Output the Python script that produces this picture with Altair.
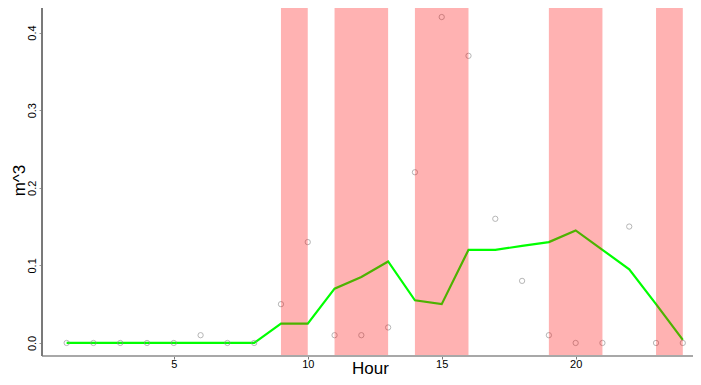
import altair as alt
import pandas as pd

hours = list(range(1, 25))
observed = [0, 0, 0, 0, 0, 0.01, 0, 0, 0.05, 0.13, 0.01, 0.01, 0.02, 0.22, 0.42, 0.37,
            0.16, 0.08, 0.01, 0, 0, 0.15, 0, 0]
smoothed = [0, 0, 0, 0, 0, 0, 0, 0, 0.025, 0.025, 0.07, 0.085, 0.105, 0.055, 0.05, 0.12,
            0.12, 0.125, 0.13, 0.145, 0.12, 0.095, 0.05, 0.004]
band_start = [9, 11, 14, 19, 23]
band_end = [10, 13, 16, 21, 24]

W, H = 651, 352

df = pd.DataFrame({"hour": hours, "obs": observed, "fit": smoothed})
bands = pd.DataFrame({"s": band_start, "e": band_end})

xscale = alt.Scale(domain=[0.08, 24.38], nice=False, zero=False)
yscale = alt.Scale(domain=[-0.0168, 0.4368], nice=False, zero=False)

FONT = "Liberation Sans"

xaxis = alt.Axis(title="Hour", values=[5, 10, 15, 20], format="d", grid=False, domain=False,
                 tickColor="#777", tickSize=3, labelBaseline="alphabetic", labelPadding=8,
                 labelFontSize=11, labelColor="#000", labelFont=FONT,
                 titleFontSize=17, titleFontWeight="normal", titleFont=FONT,
                 titleColor="#000", titleBaseline="alphabetic", titleY=17,
                 titleAnchor="middle", titleX=328)
yaxis = alt.Axis(title="m^3", values=[0, 0.1, 0.2, 0.3, 0.4], format=".1f", grid=False,
                 domain=False, tickColor="#999", tickSize=3, labelAngle=-90,
                 labelAlign="center", labelBaseline="alphabetic", labelPadding=4,
                 labelFontSize=11, labelColor="#000", labelFont=FONT,
                 titleFontSize=17, titleFontWeight="normal", titleFont=FONT,
                 titleColor="#000", titleAngle=-90, titleBaseline="alphabetic",
                 titleAlign="center", titleX=-18, titleY=176)

line = alt.Chart(df).mark_line(color="#00ff00", strokeWidth=2.2).encode(
    x=alt.X("hour:Q", scale=xscale, axis=xaxis),
    y=alt.Y("fit:Q", scale=yscale, axis=yaxis),
)
pts = alt.Chart(df).mark_point(shape="circle", filled=False, color="#8c8c8c",
                               size=28, strokeWidth=0.9).encode(
    x=alt.X("hour:Q", scale=xscale),
    y=alt.Y("obs:Q", scale=yscale),
)
rects = alt.Chart(bands).mark_rect(color="#ff0000", opacity=0.3).encode(
    x=alt.X("s:Q", scale=xscale),
    x2="e:Q",
    y=alt.value(0),
    y2=alt.value(H),
)

base = alt.Chart(df)
frame_top = base.mark_rule(color="#bdbdbd", strokeWidth=1.2).encode(
    x=alt.value(0), x2=alt.value(W), y=alt.value(0))
frame_bottom = base.mark_rule(color="#a8a8a8", strokeWidth=1.2).encode(
    x=alt.value(0), x2=alt.value(W), y=alt.value(H))
frame_left = base.mark_rule(color="#7a7a7a", strokeWidth=1.2).encode(
    x=alt.value(0), y=alt.value(0), y2=alt.value(H))

chart = alt.layer(line, pts, rects, frame_top, frame_bottom, frame_left).properties(
    width=W, height=H,
    autosize=alt.AutoSizeParams(type="none"),
    padding={"left": 34, "top": -4, "right": 0, "bottom": 21},
).configure_view(strokeWidth=0).configure(background="white")

chart.save("out.html", embed_options={"renderer": "svg", "actions": False})
